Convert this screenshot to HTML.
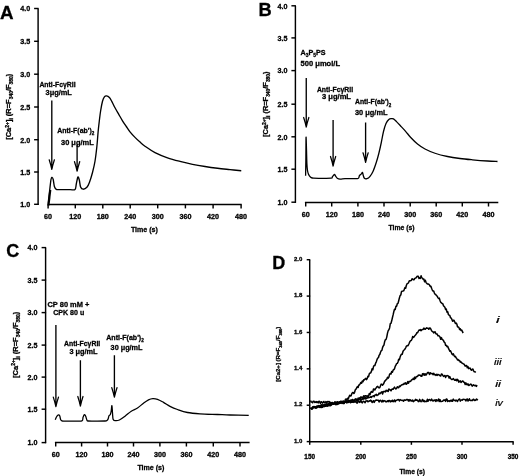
<!DOCTYPE html>
<html><head><meta charset="utf-8"><style>
html,body{margin:0;padding:0;background:#fff;}
body{width:520px;height:476px;overflow:hidden;}
svg{display:block;filter:grayscale(1);}
text{font-family:"Liberation Sans", sans-serif;fill:#000;stroke:#000;stroke-width:0.3px;}
</style></head><body>
<svg width="520" height="476" viewBox="0 0 520 476">
<rect width="520" height="476" fill="#fff"/>
<g stroke="#000" fill="#000" stroke-linecap="butt">
<text x="0.00" y="19.20" font-size="18.8" font-weight="bold" text-anchor="start" >A</text>
<line x1="38.10" y1="8.50" x2="38.10" y2="204.90" stroke-width="1.45"/>
<line x1="34.10" y1="8.50" x2="38.60" y2="8.50" stroke-width="1.45"/>
<text x="30.30" y="11.30" font-size="7.9" font-weight="bold" text-anchor="end" textLength="10.00" lengthAdjust="spacingAndGlyphs" >4.0</text>
<line x1="34.10" y1="41.30" x2="38.60" y2="41.30" stroke-width="1.45"/>
<text x="30.30" y="44.10" font-size="7.9" font-weight="bold" text-anchor="end" textLength="10.00" lengthAdjust="spacingAndGlyphs" >3.5</text>
<line x1="34.10" y1="74.20" x2="38.60" y2="74.20" stroke-width="1.45"/>
<text x="30.30" y="77.00" font-size="7.9" font-weight="bold" text-anchor="end" textLength="10.00" lengthAdjust="spacingAndGlyphs" >3.0</text>
<line x1="34.10" y1="107.00" x2="38.60" y2="107.00" stroke-width="1.45"/>
<text x="30.30" y="109.80" font-size="7.9" font-weight="bold" text-anchor="end" textLength="10.00" lengthAdjust="spacingAndGlyphs" >2.5</text>
<line x1="34.10" y1="139.70" x2="38.60" y2="139.70" stroke-width="1.45"/>
<text x="30.30" y="142.50" font-size="7.9" font-weight="bold" text-anchor="end" textLength="10.00" lengthAdjust="spacingAndGlyphs" >2.0</text>
<line x1="34.10" y1="172.00" x2="38.60" y2="172.00" stroke-width="1.45"/>
<text x="30.30" y="174.80" font-size="7.9" font-weight="bold" text-anchor="end" textLength="10.00" lengthAdjust="spacingAndGlyphs" >1.5</text>
<line x1="34.10" y1="204.30" x2="38.60" y2="204.30" stroke-width="1.45"/>
<text x="30.30" y="207.10" font-size="7.9" font-weight="bold" text-anchor="end" textLength="10.00" lengthAdjust="spacingAndGlyphs" >1.0</text>
<line x1="47.50" y1="204.40" x2="241.70" y2="204.40" stroke-width="1.45"/>
<line x1="48.10" y1="204.40" x2="48.10" y2="208.40" stroke-width="1.45"/>
<text x="48.10" y="218.60" font-size="7.2" font-weight="bold" text-anchor="middle" >60</text>
<line x1="75.30" y1="204.40" x2="75.30" y2="208.40" stroke-width="1.45"/>
<text x="75.30" y="218.60" font-size="7.2" font-weight="bold" text-anchor="middle" >120</text>
<line x1="102.80" y1="204.40" x2="102.80" y2="208.40" stroke-width="1.45"/>
<text x="102.80" y="218.60" font-size="7.2" font-weight="bold" text-anchor="middle" >180</text>
<line x1="130.20" y1="204.40" x2="130.20" y2="208.40" stroke-width="1.45"/>
<text x="130.20" y="218.60" font-size="7.2" font-weight="bold" text-anchor="middle" >240</text>
<line x1="157.70" y1="204.40" x2="157.70" y2="208.40" stroke-width="1.45"/>
<text x="157.70" y="218.60" font-size="7.2" font-weight="bold" text-anchor="middle" >300</text>
<line x1="185.40" y1="204.40" x2="185.40" y2="208.40" stroke-width="1.45"/>
<text x="185.40" y="218.60" font-size="7.2" font-weight="bold" text-anchor="middle" >360</text>
<line x1="213.10" y1="204.40" x2="213.10" y2="208.40" stroke-width="1.45"/>
<text x="213.10" y="218.60" font-size="7.2" font-weight="bold" text-anchor="middle" >420</text>
<line x1="241.10" y1="204.40" x2="241.10" y2="208.40" stroke-width="1.45"/>
<text x="241.10" y="218.60" font-size="7.2" font-weight="bold" text-anchor="middle" >480</text>
<text x="144.40" y="231.60" font-size="7.5" font-weight="bold" text-anchor="middle" textLength="27.00" lengthAdjust="spacingAndGlyphs" >Time (s)</text>
<text transform="translate(11.40,106.75) rotate(-90)" x="0" y="0" font-size="7.3" font-weight="bold" text-anchor="middle" textLength="66.10" lengthAdjust="spacingAndGlyphs">[Ca<tspan font-size="4.82" dy="-2.77">2+</tspan><tspan dy="2.77">]</tspan><tspan font-size="4.82" dy="1.82">i</tspan><tspan dy="-1.82"> (R=F</tspan><tspan font-size="4.82" dy="1.82">340</tspan><tspan dy="-1.82">/F</tspan><tspan font-size="4.82" dy="1.82">380</tspan><tspan dy="-1.82">)</tspan></text>
<path d="M48.10,203.80 C48.35,201.67 49.12,195.05 49.60,191.00 C50.08,186.95 50.58,181.78 51.00,179.50 C51.42,177.22 51.73,177.30 52.10,177.30 C52.47,177.30 52.82,177.97 53.20,179.50 C53.58,181.03 53.89,184.87 54.40,186.50 C54.91,188.13 55.32,188.78 56.25,189.30 C57.18,189.82 57.71,189.55 60.00,189.60 C62.29,189.65 67.50,189.62 70.00,189.60 C72.50,189.58 73.95,190.43 75.00,189.50 C76.05,188.57 75.82,186.08 76.30,184.00 C76.78,181.92 77.40,177.67 77.90,177.00 C78.40,176.33 78.85,178.33 79.30,180.00 C79.75,181.67 79.97,185.47 80.60,187.00 C81.23,188.53 82.05,189.15 83.10,189.20 C84.15,189.25 85.85,188.42 86.90,187.30 C87.95,186.18 88.47,184.97 89.40,182.50 C90.33,180.03 91.57,176.04 92.50,172.50 C93.43,168.96 94.27,165.62 95.00,161.25 C95.73,156.88 96.38,151.12 96.90,146.25 C97.42,141.38 97.70,136.21 98.10,132.00 C98.50,127.79 98.88,124.50 99.30,121.00 C99.72,117.50 100.07,114.29 100.60,111.00 C101.13,107.71 101.87,103.60 102.50,101.25 C103.13,98.90 103.73,97.79 104.40,96.90 C105.07,96.01 105.67,95.80 106.50,95.90 C107.33,96.00 108.50,96.55 109.40,97.50 C110.30,98.45 110.97,99.88 111.90,101.60 C112.83,103.32 113.86,105.67 115.00,107.80 C116.14,109.93 117.50,112.23 118.75,114.40 C120.00,116.57 121.25,118.78 122.50,120.80 C123.75,122.82 125.00,124.65 126.25,126.50 C127.50,128.35 128.54,130.08 130.00,131.90 C131.46,133.72 133.33,135.70 135.00,137.40 C136.67,139.10 138.33,140.63 140.00,142.10 C141.67,143.57 142.50,144.45 145.00,146.20 C147.50,147.95 151.25,150.67 155.00,152.60 C158.75,154.53 163.33,156.33 167.50,157.80 C171.67,159.27 175.83,160.32 180.00,161.40 C184.17,162.48 188.33,163.45 192.50,164.30 C196.67,165.15 200.83,165.84 205.00,166.50 C209.17,167.16 213.33,167.73 217.50,168.25 C221.67,168.77 226.04,169.18 230.00,169.60 C233.96,170.02 239.38,170.56 241.25,170.75" fill="none" stroke-width="1.35"/>
<line x1="48.50" y1="205.50" x2="50.30" y2="190.00" stroke-width="2.1"/>
<line x1="51.80" y1="100.60" x2="51.80" y2="167.30" stroke-width="1.35"/>
<path d="M49.20,159.80 Q50.90,165.03 51.80,169.30 Q52.70,165.03 54.40,159.80" fill="none" stroke-width="1.25" stroke-linejoin="round" stroke-linecap="round"/>
<path d="M50.70,164.08 L51.80,169.30 L52.90,164.08 Z" stroke="none"/>
<line x1="77.10" y1="144.40" x2="77.10" y2="169.20" stroke-width="1.35"/>
<path d="M74.50,161.70 Q76.20,166.92 77.10,171.20 Q78.00,166.92 79.70,161.70" fill="none" stroke-width="1.25" stroke-linejoin="round" stroke-linecap="round"/>
<path d="M76.00,165.97 L77.10,171.20 L78.20,165.97 Z" stroke="none"/>
<text x="39.40" y="86.60" font-size="7.6" font-weight="bold" text-anchor="start" textLength="36.20" lengthAdjust="spacingAndGlyphs" >Anti-Fc&#947;RII</text>
<text x="45.60" y="95.00" font-size="7.6" font-weight="bold" text-anchor="start" textLength="26.30" lengthAdjust="spacingAndGlyphs" >3&#956;g/mL</text>
<text x="57.25" y="133.1" font-size="7.6" font-weight="bold" textLength="37.1" lengthAdjust="spacingAndGlyphs">Anti-F(ab')<tspan font-size="5.0" dy="2.3">2</tspan></text>
<text x="61.00" y="145.00" font-size="7.6" font-weight="bold" text-anchor="start" textLength="32.70" lengthAdjust="spacingAndGlyphs" >30 &#956;g/mL</text>
<text x="258.60" y="15.50" font-size="18.3" font-weight="bold" text-anchor="start" >B</text>
<line x1="295.40" y1="5.80" x2="295.40" y2="202.90" stroke-width="1.45"/>
<line x1="291.40" y1="5.80" x2="295.90" y2="5.80" stroke-width="1.45"/>
<text x="287.60" y="8.60" font-size="7.9" font-weight="bold" text-anchor="end" textLength="10.00" lengthAdjust="spacingAndGlyphs" >4.0</text>
<line x1="291.40" y1="37.90" x2="295.90" y2="37.90" stroke-width="1.45"/>
<text x="287.60" y="40.70" font-size="7.9" font-weight="bold" text-anchor="end" textLength="10.00" lengthAdjust="spacingAndGlyphs" >3.5</text>
<line x1="291.40" y1="70.60" x2="295.90" y2="70.60" stroke-width="1.45"/>
<text x="287.60" y="73.40" font-size="7.9" font-weight="bold" text-anchor="end" textLength="10.00" lengthAdjust="spacingAndGlyphs" >3.0</text>
<line x1="291.40" y1="104.20" x2="295.90" y2="104.20" stroke-width="1.45"/>
<text x="287.60" y="107.00" font-size="7.9" font-weight="bold" text-anchor="end" textLength="10.00" lengthAdjust="spacingAndGlyphs" >2.5</text>
<line x1="291.40" y1="136.80" x2="295.90" y2="136.80" stroke-width="1.45"/>
<text x="287.60" y="139.60" font-size="7.9" font-weight="bold" text-anchor="end" textLength="10.00" lengthAdjust="spacingAndGlyphs" >2.0</text>
<line x1="291.40" y1="169.20" x2="295.90" y2="169.20" stroke-width="1.45"/>
<text x="287.60" y="172.00" font-size="7.9" font-weight="bold" text-anchor="end" textLength="10.00" lengthAdjust="spacingAndGlyphs" >1.5</text>
<line x1="291.40" y1="202.20" x2="295.90" y2="202.20" stroke-width="1.45"/>
<text x="287.60" y="205.00" font-size="7.9" font-weight="bold" text-anchor="end" textLength="10.00" lengthAdjust="spacingAndGlyphs" >1.0</text>
<line x1="304.90" y1="202.50" x2="498.30" y2="202.50" stroke-width="1.45"/>
<line x1="305.70" y1="202.50" x2="305.70" y2="206.50" stroke-width="1.45"/>
<text x="305.70" y="216.60" font-size="7.2" font-weight="bold" text-anchor="middle" >60</text>
<line x1="331.70" y1="202.50" x2="331.70" y2="206.50" stroke-width="1.45"/>
<text x="331.70" y="216.60" font-size="7.2" font-weight="bold" text-anchor="middle" >120</text>
<line x1="357.90" y1="202.50" x2="357.90" y2="206.50" stroke-width="1.45"/>
<text x="357.90" y="216.60" font-size="7.2" font-weight="bold" text-anchor="middle" >180</text>
<line x1="384.00" y1="202.50" x2="384.00" y2="206.50" stroke-width="1.45"/>
<text x="384.00" y="216.60" font-size="7.2" font-weight="bold" text-anchor="middle" >240</text>
<line x1="410.20" y1="202.50" x2="410.20" y2="206.50" stroke-width="1.45"/>
<text x="410.20" y="216.60" font-size="7.2" font-weight="bold" text-anchor="middle" >300</text>
<line x1="436.20" y1="202.50" x2="436.20" y2="206.50" stroke-width="1.45"/>
<text x="436.20" y="216.60" font-size="7.2" font-weight="bold" text-anchor="middle" >360</text>
<line x1="462.30" y1="202.50" x2="462.30" y2="206.50" stroke-width="1.45"/>
<text x="462.30" y="216.60" font-size="7.2" font-weight="bold" text-anchor="middle" >420</text>
<line x1="488.50" y1="202.50" x2="488.50" y2="206.50" stroke-width="1.45"/>
<text x="488.50" y="216.60" font-size="7.2" font-weight="bold" text-anchor="middle" >480</text>
<text x="401.50" y="229.50" font-size="7.5" font-weight="bold" text-anchor="middle" textLength="26.00" lengthAdjust="spacingAndGlyphs" >Time (s)</text>
<text transform="translate(268.45,104.20) rotate(-90)" x="0" y="0" font-size="7.3" font-weight="bold" text-anchor="middle" textLength="65.40" lengthAdjust="spacingAndGlyphs">[Ca<tspan font-size="4.82" dy="-2.77">2+</tspan><tspan dy="2.77">]</tspan><tspan font-size="4.82" dy="1.82">i</tspan><tspan dy="-1.82"> (R=F</tspan><tspan font-size="4.82" dy="1.82">340</tspan><tspan dy="-1.82">/F</tspan><tspan font-size="4.82" dy="1.82">380</tspan><tspan dy="-1.82">)</tspan></text>
<path d="M305.60,175.80 C305.64,173.17 305.78,166.42 305.85,160.00 C305.93,153.58 305.94,138.97 306.05,137.30 C306.16,135.63 306.36,145.55 306.50,150.00 C306.64,154.45 306.73,160.58 306.90,164.00 C307.07,167.42 307.25,168.83 307.50,170.50 C307.75,172.17 308.08,173.12 308.40,174.00 C308.72,174.88 308.92,175.20 309.40,175.80 C309.88,176.40 310.57,177.20 311.25,177.60 C311.93,178.00 312.04,178.08 313.50,178.20 C314.96,178.32 317.08,178.30 320.00,178.30 C322.92,178.30 328.92,178.50 331.00,178.20 C333.08,177.90 331.93,177.12 332.50,176.50 C333.07,175.88 333.85,174.52 334.40,174.50 C334.95,174.48 335.33,175.78 335.80,176.40 C336.27,177.02 336.50,177.75 337.20,178.20 C337.90,178.65 338.70,179.02 340.00,179.10 C341.30,179.18 343.00,178.78 345.00,178.70 C347.00,178.62 349.82,178.63 352.00,178.60 C354.18,178.57 356.87,179.00 358.10,178.50 C359.33,178.00 358.98,176.25 359.40,175.60 C359.82,174.95 360.23,174.93 360.60,174.60 C360.97,174.27 361.28,173.97 361.60,173.60 C361.92,173.23 362.23,172.13 362.50,172.40 C362.77,172.67 362.88,174.22 363.20,175.20 C363.52,176.18 363.78,177.72 364.40,178.30 C365.02,178.88 365.97,179.03 366.90,178.70 C367.83,178.37 368.97,177.55 370.00,176.30 C371.03,175.05 372.06,173.50 373.10,171.20 C374.14,168.90 375.31,165.41 376.25,162.50 C377.19,159.59 377.91,157.08 378.75,153.75 C379.59,150.42 380.51,146.21 381.30,142.50 C382.09,138.79 382.72,134.67 383.50,131.50 C384.28,128.33 385.12,125.52 386.00,123.50 C386.88,121.48 387.88,120.22 388.80,119.40 C389.72,118.58 390.72,118.68 391.50,118.60 C392.28,118.52 392.67,118.40 393.50,118.90 C394.33,119.40 395.22,120.32 396.50,121.60 C397.78,122.88 399.65,124.93 401.20,126.60 C402.75,128.27 404.25,129.83 405.80,131.60 C407.35,133.37 408.55,135.13 410.50,137.20 C412.45,139.27 415.08,142.03 417.50,144.00 C419.92,145.97 422.08,147.46 425.00,149.00 C427.92,150.54 431.25,152.00 435.00,153.25 C438.75,154.50 443.33,155.62 447.50,156.50 C451.67,157.38 455.83,157.95 460.00,158.50 C464.17,159.05 467.92,159.38 472.50,159.80 C477.08,160.22 483.33,160.72 487.50,161.00 C491.67,161.28 495.83,161.42 497.50,161.50" fill="none" stroke-width="1.3"/>
<line x1="306.25" y1="78.10" x2="306.25" y2="125.00" stroke-width="1.35"/>
<path d="M303.65,117.50 Q305.35,122.72 306.25,127.00 Q307.15,122.72 308.85,117.50" fill="none" stroke-width="1.25" stroke-linejoin="round" stroke-linecap="round"/>
<path d="M305.15,121.78 L306.25,127.00 L307.35,121.78 Z" stroke="none"/>
<line x1="333.10" y1="120.00" x2="333.10" y2="164.00" stroke-width="1.35"/>
<path d="M330.50,156.50 Q332.20,161.72 333.10,166.00 Q334.00,161.72 335.70,156.50" fill="none" stroke-width="1.25" stroke-linejoin="round" stroke-linecap="round"/>
<path d="M332.00,160.78 L333.10,166.00 L334.20,160.78 Z" stroke="none"/>
<line x1="365.60" y1="122.50" x2="365.60" y2="160.30" stroke-width="1.35"/>
<path d="M363.00,152.80 Q364.70,158.03 365.60,162.30 Q366.50,158.03 368.20,152.80" fill="none" stroke-width="1.25" stroke-linejoin="round" stroke-linecap="round"/>
<path d="M364.50,157.08 L365.60,162.30 L366.70,157.08 Z" stroke="none"/>
<text x="300.6" y="54.8" font-size="7.6" font-weight="bold" textLength="25.0" lengthAdjust="spacingAndGlyphs">A<tspan font-size="5.2" dy="2.0">3</tspan><tspan dy="-2.0">P</tspan><tspan font-size="5.2" dy="2.0">5</tspan><tspan dy="-2.0">PS</tspan></text>
<text x="300.60" y="66.25" font-size="7.6" font-weight="bold" text-anchor="start" textLength="39.40" lengthAdjust="spacingAndGlyphs" >500 &#956;mol/L</text>
<text x="316.90" y="91.90" font-size="7.6" font-weight="bold" text-anchor="start" textLength="36.20" lengthAdjust="spacingAndGlyphs" >Anti-Fc&#947;RII</text>
<text x="322.00" y="98.90" font-size="7.6" font-weight="bold" text-anchor="start" textLength="29.00" lengthAdjust="spacingAndGlyphs" >3 &#956;g/mL</text>
<text x="355.0" y="104.4" font-size="7.6" font-weight="bold" textLength="36.3" lengthAdjust="spacingAndGlyphs">Anti-F(ab')<tspan font-size="5.0" dy="2.3">2</tspan></text>
<text x="355.00" y="115.00" font-size="7.6" font-weight="bold" text-anchor="start" textLength="32.50" lengthAdjust="spacingAndGlyphs" >30 &#956;g/mL</text>
<text x="6.20" y="256.80" font-size="18.0" font-weight="bold" text-anchor="start" >C</text>
<line x1="45.60" y1="247.60" x2="45.60" y2="443.20" stroke-width="1.45"/>
<line x1="41.60" y1="247.60" x2="46.10" y2="247.60" stroke-width="1.45"/>
<text x="37.50" y="250.40" font-size="7.9" font-weight="bold" text-anchor="end" textLength="10.00" lengthAdjust="spacingAndGlyphs" >4.0</text>
<line x1="41.60" y1="280.10" x2="46.10" y2="280.10" stroke-width="1.45"/>
<text x="37.50" y="282.90" font-size="7.9" font-weight="bold" text-anchor="end" textLength="10.00" lengthAdjust="spacingAndGlyphs" >3.5</text>
<line x1="41.60" y1="312.60" x2="46.10" y2="312.60" stroke-width="1.45"/>
<text x="37.50" y="315.40" font-size="7.9" font-weight="bold" text-anchor="end" textLength="10.00" lengthAdjust="spacingAndGlyphs" >3.0</text>
<line x1="41.60" y1="345.10" x2="46.10" y2="345.10" stroke-width="1.45"/>
<text x="37.50" y="347.90" font-size="7.9" font-weight="bold" text-anchor="end" textLength="10.00" lengthAdjust="spacingAndGlyphs" >2.5</text>
<line x1="41.60" y1="377.10" x2="46.10" y2="377.10" stroke-width="1.45"/>
<text x="37.50" y="379.90" font-size="7.9" font-weight="bold" text-anchor="end" textLength="10.00" lengthAdjust="spacingAndGlyphs" >2.0</text>
<line x1="41.60" y1="409.20" x2="46.10" y2="409.20" stroke-width="1.45"/>
<text x="37.50" y="412.00" font-size="7.9" font-weight="bold" text-anchor="end" textLength="10.00" lengthAdjust="spacingAndGlyphs" >1.5</text>
<line x1="41.60" y1="442.60" x2="46.10" y2="442.60" stroke-width="1.45"/>
<text x="37.50" y="445.40" font-size="7.9" font-weight="bold" text-anchor="end" textLength="10.00" lengthAdjust="spacingAndGlyphs" >1.0</text>
<line x1="54.90" y1="442.50" x2="249.60" y2="442.50" stroke-width="1.45"/>
<line x1="55.70" y1="442.50" x2="55.70" y2="446.50" stroke-width="1.45"/>
<text x="55.70" y="456.60" font-size="7.2" font-weight="bold" text-anchor="middle" >60</text>
<line x1="81.60" y1="442.50" x2="81.60" y2="446.50" stroke-width="1.45"/>
<text x="81.60" y="456.60" font-size="7.2" font-weight="bold" text-anchor="middle" >120</text>
<line x1="107.50" y1="442.50" x2="107.50" y2="446.50" stroke-width="1.45"/>
<text x="107.50" y="456.60" font-size="7.2" font-weight="bold" text-anchor="middle" >180</text>
<line x1="133.50" y1="442.50" x2="133.50" y2="446.50" stroke-width="1.45"/>
<text x="133.50" y="456.60" font-size="7.2" font-weight="bold" text-anchor="middle" >240</text>
<line x1="159.90" y1="442.50" x2="159.90" y2="446.50" stroke-width="1.45"/>
<text x="159.90" y="456.60" font-size="7.2" font-weight="bold" text-anchor="middle" >300</text>
<line x1="186.40" y1="442.50" x2="186.40" y2="446.50" stroke-width="1.45"/>
<text x="186.40" y="456.60" font-size="7.2" font-weight="bold" text-anchor="middle" >360</text>
<line x1="213.30" y1="442.50" x2="213.30" y2="446.50" stroke-width="1.45"/>
<text x="213.30" y="456.60" font-size="7.2" font-weight="bold" text-anchor="middle" >420</text>
<line x1="240.00" y1="442.50" x2="240.00" y2="446.50" stroke-width="1.45"/>
<text x="240.00" y="456.60" font-size="7.2" font-weight="bold" text-anchor="middle" >480</text>
<text x="150.90" y="470.40" font-size="7.5" font-weight="bold" text-anchor="middle" textLength="27.00" lengthAdjust="spacingAndGlyphs" >Time (s)</text>
<text transform="translate(17.90,344.80) rotate(-90)" x="0" y="0" font-size="7.3" font-weight="bold" text-anchor="middle" textLength="66.20" lengthAdjust="spacingAndGlyphs">[Ca<tspan font-size="4.82" dy="-2.77">2+</tspan><tspan dy="2.77">]</tspan><tspan font-size="4.82" dy="1.82">i</tspan><tspan dy="-1.82"> (R=F</tspan><tspan font-size="4.82" dy="1.82">340</tspan><tspan dy="-1.82">/F</tspan><tspan font-size="4.82" dy="1.82">380</tspan><tspan dy="-1.82">)</tspan></text>
<path d="M55.25,419.80 C55.48,419.30 56.18,417.57 56.60,416.80 C57.02,416.03 57.44,415.52 57.80,415.20 C58.16,414.88 58.42,414.77 58.75,414.90 C59.08,415.03 59.49,415.23 59.80,416.00 C60.11,416.77 60.25,418.68 60.60,419.50 C60.95,420.32 61.17,420.63 61.90,420.90 C62.63,421.17 62.82,421.07 65.00,421.10 C67.18,421.13 72.18,421.13 75.00,421.10 C77.82,421.07 80.57,421.50 81.90,420.90 C83.23,420.30 82.65,418.48 83.00,417.50 C83.35,416.52 83.71,415.45 84.00,415.00 C84.29,414.55 84.45,414.55 84.75,414.80 C85.05,415.05 85.44,415.63 85.80,416.50 C86.16,417.37 86.50,419.25 86.90,420.00 C87.30,420.75 86.85,420.82 88.20,421.00 C89.55,421.18 92.20,421.10 95.00,421.10 C97.80,421.10 102.97,421.13 105.00,421.00 C107.03,420.87 106.68,420.63 107.20,420.30 C107.72,419.97 107.80,419.75 108.10,419.00 C108.40,418.25 108.63,416.53 109.00,415.80 C109.37,415.07 109.93,415.40 110.30,414.60 C110.67,413.80 110.93,412.50 111.20,411.00 C111.47,409.50 111.68,405.27 111.90,405.60 C112.12,405.93 112.30,410.73 112.50,413.00 C112.70,415.27 112.68,417.93 113.10,419.20 C113.52,420.47 113.95,420.47 115.00,420.60 C116.05,420.73 117.73,420.73 119.40,420.00 C121.07,419.27 123.03,417.72 125.00,416.25 C126.97,414.78 129.17,412.57 131.25,411.20 C133.33,409.82 135.46,409.33 137.50,408.00 C139.54,406.67 141.67,404.57 143.50,403.20 C145.33,401.83 146.95,400.57 148.50,399.80 C150.05,399.03 151.30,398.68 152.80,398.60 C154.30,398.52 155.72,398.67 157.50,399.30 C159.28,399.93 161.42,401.23 163.50,402.40 C165.58,403.57 167.67,405.12 170.00,406.30 C172.33,407.48 174.58,408.47 177.50,409.50 C180.42,410.53 183.75,411.78 187.50,412.50 C191.25,413.22 195.00,413.47 200.00,413.80 C205.00,414.13 212.50,414.30 217.50,414.50 C222.50,414.70 224.79,414.87 230.00,415.00 C235.21,415.13 245.62,415.25 248.75,415.30" fill="none" stroke-width="1.3"/>
<line x1="55.90" y1="325.00" x2="55.90" y2="404.60" stroke-width="1.35"/>
<path d="M53.30,397.10 Q55.00,402.33 55.90,406.60 Q56.80,402.33 58.50,397.10" fill="none" stroke-width="1.25" stroke-linejoin="round" stroke-linecap="round"/>
<path d="M54.80,401.38 L55.90,406.60 L57.00,401.38 Z" stroke="none"/>
<line x1="80.40" y1="360.25" x2="80.40" y2="404.00" stroke-width="1.35"/>
<path d="M77.80,396.50 Q79.50,401.73 80.40,406.00 Q81.30,401.73 83.00,396.50" fill="none" stroke-width="1.25" stroke-linejoin="round" stroke-linecap="round"/>
<path d="M79.30,400.77 L80.40,406.00 L81.50,400.77 Z" stroke="none"/>
<line x1="114.40" y1="355.25" x2="114.40" y2="395.20" stroke-width="1.35"/>
<path d="M111.80,387.70 Q113.50,392.93 114.40,397.20 Q115.30,392.93 117.00,387.70" fill="none" stroke-width="1.25" stroke-linejoin="round" stroke-linecap="round"/>
<path d="M113.30,391.97 L114.40,397.20 L115.50,391.97 Z" stroke="none"/>
<text x="47.50" y="306.90" font-size="7.8" font-weight="bold" text-anchor="start" textLength="41.80" lengthAdjust="spacingAndGlyphs" >CP 80 mM +</text>
<text x="53.25" y="315.30" font-size="7.8" font-weight="bold" text-anchor="start" textLength="31.00" lengthAdjust="spacingAndGlyphs" >CPK 80 u</text>
<text x="64.00" y="346.25" font-size="7.6" font-weight="bold" text-anchor="start" textLength="36.20" lengthAdjust="spacingAndGlyphs" >Anti-Fc&#947;RII</text>
<text x="69.40" y="354.00" font-size="7.6" font-weight="bold" text-anchor="start" textLength="28.10" lengthAdjust="spacingAndGlyphs" >3 &#956;g/mL</text>
<text x="106.25" y="339.75" font-size="7.6" font-weight="bold" textLength="37.5" lengthAdjust="spacingAndGlyphs">Anti-F(ab')<tspan font-size="5.0" dy="2.3">2</tspan></text>
<text x="110.60" y="350.00" font-size="7.6" font-weight="bold" text-anchor="start" textLength="31.90" lengthAdjust="spacingAndGlyphs" >30 &#956;g/mL</text>
<text x="272.20" y="269.30" font-size="18.0" font-weight="bold" text-anchor="start" >D</text>
<line x1="309.70" y1="259.70" x2="309.70" y2="442.20" stroke-width="1.45"/>
<line x1="306.70" y1="259.70" x2="310.20" y2="259.70" stroke-width="1.45"/>
<text x="302.30" y="260.80" font-size="6.0" font-weight="bold" text-anchor="end" >2.0</text>
<line x1="306.70" y1="296.08" x2="310.20" y2="296.08" stroke-width="1.45"/>
<text x="302.30" y="297.18" font-size="6.0" font-weight="bold" text-anchor="end" >1.8</text>
<line x1="306.70" y1="332.46" x2="310.20" y2="332.46" stroke-width="1.45"/>
<text x="302.30" y="333.56" font-size="6.0" font-weight="bold" text-anchor="end" >1.6</text>
<line x1="306.70" y1="368.84" x2="310.20" y2="368.84" stroke-width="1.45"/>
<text x="302.30" y="369.94" font-size="6.0" font-weight="bold" text-anchor="end" >1.4</text>
<line x1="306.70" y1="405.22" x2="310.20" y2="405.22" stroke-width="1.45"/>
<text x="302.30" y="406.32" font-size="6.0" font-weight="bold" text-anchor="end" >1.2</text>
<line x1="306.70" y1="441.60" x2="310.20" y2="441.60" stroke-width="1.45"/>
<text x="302.30" y="442.70" font-size="6.0" font-weight="bold" text-anchor="end" >1.0</text>
<line x1="309.10" y1="441.80" x2="513.70" y2="441.80" stroke-width="1.45"/>
<line x1="309.70" y1="441.80" x2="309.70" y2="444.80" stroke-width="1.45"/>
<text x="309.70" y="459.30" font-size="6.4" font-weight="bold" text-anchor="middle" >150</text>
<line x1="360.80" y1="441.80" x2="360.80" y2="444.80" stroke-width="1.45"/>
<text x="360.80" y="459.30" font-size="6.4" font-weight="bold" text-anchor="middle" >200</text>
<line x1="411.40" y1="441.80" x2="411.40" y2="444.80" stroke-width="1.45"/>
<text x="411.40" y="459.30" font-size="6.4" font-weight="bold" text-anchor="middle" >250</text>
<line x1="462.00" y1="441.80" x2="462.00" y2="444.80" stroke-width="1.45"/>
<text x="462.00" y="459.30" font-size="6.4" font-weight="bold" text-anchor="middle" >300</text>
<line x1="513.10" y1="441.80" x2="513.10" y2="444.80" stroke-width="1.45"/>
<text x="513.10" y="459.30" font-size="6.4" font-weight="bold" text-anchor="middle" >350</text>
<text x="412.20" y="474.40" font-size="7.2" font-weight="bold" text-anchor="middle" textLength="25.60" lengthAdjust="spacingAndGlyphs" >Time (s)</text>
<text transform="translate(280.4,354.2) rotate(-90)" x="0" y="0" font-size="5.6" font-weight="bold" text-anchor="middle" textLength="55.1" lengthAdjust="spacingAndGlyphs">[Ca2+] (R=F<tspan font-size="3.8" dy="1.3">340</tspan><tspan dy="-1.3">/F</tspan><tspan font-size="3.8" dy="1.3">380</tspan><tspan dy="-1.3">)</tspan></text>
<path d="M310.50,408.18 L311.20,408.32 L311.90,409.14 L312.60,407.81 L313.30,407.79 L314.00,407.86 L314.70,406.68 L315.40,407.40 L316.10,407.58 L316.80,407.87 L317.50,405.92 L318.20,406.33 L318.90,405.64 L319.60,407.38 L320.30,406.94 L321.00,405.11 L321.70,407.41 L322.40,407.23 L323.10,406.28 L323.80,406.04 L324.50,404.71 L325.20,404.20 L325.90,405.39 L326.60,404.03 L327.30,404.23 L328.00,404.23 L328.70,403.54 L329.40,404.53 L330.10,404.33 L330.80,405.23 L331.50,404.25 L332.20,404.42 L332.90,403.92 L333.60,404.20 L334.30,403.53 L335.00,402.92 L335.70,404.65 L336.40,404.51 L337.10,403.96 L337.80,403.48 L338.50,402.32 L339.20,401.96 L339.90,401.97 L340.60,401.17 L341.30,402.73 L342.00,401.54 L342.70,402.45 L343.40,401.01 L344.10,402.25 L344.80,401.71 L345.50,399.20 L346.20,399.05 L346.90,400.17 L347.60,398.32 L348.30,398.95 L349.00,396.73 L349.70,395.19 L350.40,395.96 L351.10,395.68 L351.80,393.69 L352.50,392.55 L353.20,392.52 L353.90,393.50 L354.60,392.30 L355.30,389.82 L356.00,389.14 L356.70,387.75 L357.40,386.63 L358.10,387.53 L358.80,384.90 L359.50,384.88 L360.20,383.69 L360.90,382.42 L361.60,383.22 L362.30,381.05 L363.00,381.77 L363.70,379.80 L364.40,379.98 L365.10,378.83 L365.80,378.37 L366.50,379.59 L367.20,378.55 L367.90,376.32 L368.60,376.67 L369.30,373.75 L370.00,373.06 L370.70,373.09 L371.40,371.36 L372.10,368.72 L372.80,369.81 L373.50,366.57 L374.20,365.46 L374.90,365.57 L375.60,363.19 L376.30,361.85 L377.00,359.64 L377.70,358.05 L378.40,357.70 L379.10,355.18 L379.80,354.48 L380.50,352.21 L381.20,350.73 L381.90,350.35 L382.60,347.42 L383.30,345.94 L384.00,344.95 L384.70,341.43 L385.40,339.60 L386.10,339.41 L386.80,336.87 L387.50,333.09 L388.20,330.63 L388.90,329.75 L389.60,327.96 L390.30,323.71 L391.00,323.32 L391.70,320.80 L392.40,317.73 L393.10,314.91 L393.80,311.74 L394.50,309.23 L395.20,309.57 L395.90,306.36 L396.60,306.24 L397.30,303.75 L398.00,303.39 L398.70,300.76 L399.40,297.94 L400.10,295.60 L400.80,294.98 L401.50,291.65 L402.20,291.13 L402.90,291.05 L403.60,290.88 L404.30,289.33 L405.00,287.53 L405.70,288.14 L406.40,285.24 L407.10,283.71 L407.80,283.32 L408.50,282.73 L409.20,280.99 L409.90,280.71 L410.60,280.63 L411.30,280.58 L412.00,278.86 L412.70,278.92 L413.40,279.86 L414.10,279.67 L414.80,278.40 L415.50,278.06 L416.20,277.72 L416.90,276.56 L417.60,276.29 L418.30,276.25 L419.00,278.52 L419.70,277.83 L420.40,278.37 L421.10,275.79 L421.80,277.88 L422.50,278.15 L423.20,279.47 L423.90,279.12 L424.60,281.75 L425.30,280.22 L426.00,282.31 L426.70,283.33 L427.40,284.09 L428.10,284.00 L428.80,284.24 L429.50,284.94 L430.20,286.47 L430.90,286.23 L431.60,288.31 L432.30,290.09 L433.00,291.11 L433.70,290.98 L434.40,293.01 L435.10,294.25 L435.80,294.54 L436.50,295.72 L437.20,296.14 L437.90,297.62 L438.60,298.58 L439.30,298.10 L440.00,300.44 L440.70,302.26 L441.40,302.85 L442.10,303.42 L442.80,303.66 L443.50,305.69 L444.20,306.42 L444.90,307.18 L445.60,309.59 L446.30,309.04 L447.00,312.18 L447.70,311.72 L448.40,314.44 L449.10,315.12 L449.80,315.46 L450.50,317.67 L451.20,318.15 L451.90,319.45 L452.60,321.20 L453.30,320.22 L454.00,320.33 L454.70,321.83 L455.40,323.56 L456.10,323.07 L456.80,323.87 L457.50,326.72 L458.20,327.02 L458.90,327.38 L459.60,329.49 L460.30,328.87 L461.00,330.50 L461.70,330.03 L462.40,331.38 L463.10,333.10" fill="none" stroke-width="1.5" stroke-linejoin="round"/>
<path d="M310.50,408.23 L311.20,408.58 L311.90,408.47 L312.60,406.97 L313.30,406.50 L314.00,407.31 L314.70,406.92 L315.40,408.18 L316.10,407.73 L316.80,407.37 L317.50,407.12 L318.20,407.26 L318.90,405.79 L319.60,406.42 L320.30,405.56 L321.00,407.36 L321.70,405.01 L322.40,406.85 L323.10,404.77 L323.80,406.23 L324.50,405.18 L325.20,405.21 L325.90,406.21 L326.60,403.93 L327.30,403.90 L328.00,405.98 L328.70,404.78 L329.40,403.56 L330.10,405.75 L330.80,405.53 L331.50,403.24 L332.20,403.93 L332.90,403.06 L333.60,403.40 L334.30,404.08 L335.00,402.78 L335.70,404.04 L336.40,402.25 L337.10,402.44 L337.80,403.99 L338.50,402.80 L339.20,402.72 L339.90,403.07 L340.60,402.65 L341.30,402.30 L342.00,401.27 L342.70,402.97 L343.40,403.49 L344.10,403.40 L344.80,402.48 L345.50,401.57 L346.20,401.48 L346.90,402.22 L347.60,402.07 L348.30,400.51 L349.00,400.72 L349.70,400.94 L350.40,401.18 L351.10,401.78 L351.80,400.81 L352.50,399.41 L353.20,401.30 L353.90,400.11 L354.60,400.16 L355.30,399.22 L356.00,399.58 L356.70,399.31 L357.40,400.13 L358.10,398.13 L358.80,399.03 L359.50,397.79 L360.20,398.87 L360.90,396.88 L361.60,397.23 L362.30,397.14 L363.00,397.63 L363.70,395.84 L364.40,396.63 L365.10,395.71 L365.80,395.67 L366.50,395.94 L367.20,396.96 L367.90,395.48 L368.60,396.11 L369.30,393.39 L370.00,394.69 L370.70,392.56 L371.40,391.44 L372.10,392.22 L372.80,391.98 L373.50,388.96 L374.20,389.11 L374.90,389.98 L375.60,388.43 L376.30,387.73 L377.00,386.68 L377.70,386.32 L378.40,387.39 L379.10,387.90 L379.80,387.49 L380.50,385.77 L381.20,384.08 L381.90,384.42 L382.60,385.12 L383.30,384.31 L384.00,382.88 L384.70,380.89 L385.40,380.74 L386.10,379.69 L386.80,379.15 L387.50,377.28 L388.20,378.14 L388.90,377.07 L389.60,374.18 L390.30,373.54 L391.00,374.07 L391.70,371.54 L392.40,372.29 L393.10,370.20 L393.80,369.69 L394.50,368.73 L395.20,366.36 L395.90,365.14 L396.60,363.66 L397.30,363.38 L398.00,362.00 L398.70,359.14 L399.40,359.70 L400.10,357.09 L400.80,355.19 L401.50,354.26 L402.20,354.25 L402.90,351.72 L403.60,350.46 L404.30,349.80 L405.00,349.05 L405.70,347.76 L406.40,346.10 L407.10,345.78 L407.80,345.83 L408.50,344.77 L409.20,343.28 L409.90,341.62 L410.60,340.62 L411.30,340.52 L412.00,339.02 L412.70,336.57 L413.40,337.42 L414.10,336.97 L414.80,335.75 L415.50,335.05 L416.20,334.14 L416.90,332.64 L417.60,332.81 L418.30,331.25 L419.00,330.03 L419.70,330.20 L420.40,329.61 L421.10,330.73 L421.80,329.89 L422.50,329.39 L423.20,329.47 L423.90,328.06 L424.60,329.00 L425.30,329.30 L426.00,328.38 L426.70,327.87 L427.40,328.34 L428.10,328.23 L428.80,329.29 L429.50,327.99 L430.20,328.09 L430.90,329.21 L431.60,330.75 L432.30,331.45 L433.00,331.73 L433.70,332.99 L434.40,332.09 L435.10,331.79 L435.80,333.56 L436.50,334.03 L437.20,333.92 L437.90,335.84 L438.60,335.69 L439.30,336.12 L440.00,337.05 L440.70,339.35 L441.40,337.62 L442.10,339.24 L442.80,339.84 L443.50,340.60 L444.20,342.17 L444.90,342.58 L445.60,345.37 L446.30,345.25 L447.00,346.73 L447.70,346.32 L448.40,348.15 L449.10,349.57 L449.80,351.23 L450.50,350.73 L451.20,352.32 L451.90,354.07 L452.60,354.71 L453.30,353.84 L454.00,355.35 L454.70,356.63 L455.40,356.38 L456.10,357.80 L456.80,358.47 L457.50,359.98 L458.20,359.59 L458.90,360.62 L459.60,360.46 L460.30,362.15 L461.00,361.79 L461.70,362.92 L462.40,363.21 L463.10,363.73 L463.80,363.93 L464.50,364.82 L465.20,366.20 L465.90,365.71 L466.60,365.46 L467.30,367.71 L468.00,366.64 L468.70,368.61 L469.40,368.16 L470.10,368.05 L470.80,369.74 L471.50,370.24 L472.20,369.18 L472.90,369.10 L473.60,370.88 L474.30,371.84 L475.00,371.66 L475.70,372.55" fill="none" stroke-width="1.5" stroke-linejoin="round"/>
<path d="M310.50,407.67 L311.20,408.65 L311.90,408.51 L312.60,408.81 L313.30,406.95 L314.00,406.94 L314.70,406.59 L315.40,406.66 L316.10,407.85 L316.80,406.14 L317.50,407.06 L318.20,406.10 L318.90,406.17 L319.60,406.40 L320.30,407.32 L321.00,406.58 L321.70,404.90 L322.40,405.44 L323.10,404.96 L323.80,406.71 L324.50,406.41 L325.20,406.26 L325.90,406.17 L326.60,405.82 L327.30,406.21 L328.00,405.66 L328.70,404.13 L329.40,405.53 L330.10,404.45 L330.80,405.03 L331.50,404.41 L332.20,403.94 L332.90,403.65 L333.60,403.71 L334.30,403.28 L335.00,402.66 L335.70,404.36 L336.40,404.19 L337.10,404.56 L337.80,403.67 L338.50,403.20 L339.20,403.58 L339.90,401.87 L340.60,403.17 L341.30,402.45 L342.00,401.65 L342.70,401.61 L343.40,402.33 L344.10,401.52 L344.80,401.95 L345.50,402.22 L346.20,401.57 L346.90,400.77 L347.60,401.60 L348.30,400.83 L349.00,400.72 L349.70,400.50 L350.40,400.81 L351.10,399.90 L351.80,401.25 L352.50,401.88 L353.20,400.26 L353.90,400.96 L354.60,401.36 L355.30,398.90 L356.00,399.00 L356.70,400.57 L357.40,400.50 L358.10,399.83 L358.80,398.44 L359.50,398.95 L360.20,399.98 L360.90,399.88 L361.60,399.51 L362.30,397.80 L363.00,399.35 L363.70,397.95 L364.40,398.69 L365.10,397.04 L365.80,399.09 L366.50,398.01 L367.20,398.20 L367.90,396.75 L368.60,397.69 L369.30,397.47 L370.00,397.38 L370.70,396.66 L371.40,397.49 L372.10,396.37 L372.80,396.13 L373.50,395.67 L374.20,396.79 L374.90,395.01 L375.60,395.01 L376.30,394.31 L377.00,395.51 L377.70,394.99 L378.40,394.66 L379.10,393.05 L379.80,393.80 L380.50,393.26 L381.20,392.31 L381.90,391.78 L382.60,394.08 L383.30,391.50 L384.00,391.68 L384.70,391.30 L385.40,391.86 L386.10,390.21 L386.80,390.98 L387.50,390.47 L388.20,391.44 L388.90,389.04 L389.60,389.65 L390.30,389.83 L391.00,390.82 L391.70,389.40 L392.40,389.04 L393.10,389.31 L393.80,388.09 L394.50,387.16 L395.20,388.14 L395.90,388.96 L396.60,388.27 L397.30,386.78 L398.00,387.64 L398.70,387.83 L399.40,385.99 L400.10,386.53 L400.80,385.62 L401.50,385.03 L402.20,384.83 L402.90,384.30 L403.60,384.38 L404.30,383.26 L405.00,383.88 L405.70,382.77 L406.40,384.21 L407.10,383.49 L407.80,381.63 L408.50,383.32 L409.20,381.37 L409.90,381.62 L410.60,381.31 L411.30,380.23 L412.00,379.61 L412.70,379.49 L413.40,378.21 L414.10,379.59 L414.80,377.14 L415.50,378.59 L416.20,376.67 L416.90,376.54 L417.60,376.41 L418.30,375.14 L419.00,375.03 L419.70,375.29 L420.40,375.26 L421.10,376.23 L421.80,376.36 L422.50,373.74 L423.20,374.86 L423.90,373.64 L424.60,375.24 L425.30,373.83 L426.00,375.15 L426.70,374.09 L427.40,372.84 L428.10,372.36 L428.80,372.85 L429.50,374.53 L430.20,372.74 L430.90,373.67 L431.60,373.46 L432.30,373.46 L433.00,374.72 L433.70,373.26 L434.40,374.65 L435.10,374.59 L435.80,375.36 L436.50,374.35 L437.20,375.46 L437.90,374.31 L438.60,374.77 L439.30,375.00 L440.00,375.68 L440.70,375.95 L441.40,374.02 L442.10,374.19 L442.80,375.39 L443.50,376.34 L444.20,375.85 L444.90,375.47 L445.60,377.42 L446.30,375.93 L447.00,375.61 L447.70,375.75 L448.40,375.93 L449.10,377.97 L449.80,376.59 L450.50,378.40 L451.20,379.02 L451.90,379.60 L452.60,379.34 L453.30,378.61 L454.00,379.39 L454.70,380.20 L455.40,380.16 L456.10,379.32 L456.80,380.82 L457.50,379.38 L458.20,380.17 L458.90,382.22 L459.60,381.12 L460.30,380.86 L461.00,382.47 L461.70,381.87 L462.40,380.97 L463.10,381.30 L463.80,382.17 L464.50,382.62 L465.20,384.44 L465.90,382.83 L466.60,384.58 L467.30,384.77 L468.00,383.81 L468.70,385.49 L469.40,385.07 L470.10,384.53 L470.80,384.14 L471.50,384.84 L472.20,386.17 L472.90,385.40 L473.60,384.69 L474.30,385.34 L475.00,385.79 L475.70,385.23 L476.40,386.40 L477.10,385.18" fill="none" stroke-width="1.5" stroke-linejoin="round"/>
<path d="M310.50,400.48 L311.20,402.09 L311.90,402.01 L312.60,402.82 L313.30,401.14 L314.00,401.16 L314.70,402.46 L315.40,402.32 L316.10,401.46 L316.80,402.51 L317.50,401.82 L318.20,402.87 L318.90,401.22 L319.60,401.55 L320.30,403.35 L321.00,401.96 L321.70,401.72 L322.40,403.15 L323.10,402.72 L323.80,401.48 L324.50,402.55 L325.20,402.86 L325.90,401.58 L326.60,402.86 L327.30,401.50 L328.00,402.08 L328.70,401.43 L329.40,401.77 L330.10,403.80 L330.80,402.32 L331.50,403.86 L332.20,402.45 L332.90,402.90 L333.60,403.61 L334.30,403.14 L335.00,401.66 L335.70,402.92 L336.40,403.06 L337.10,401.90 L337.80,401.69 L338.50,403.74 L339.20,402.82 L339.90,402.00 L340.60,402.65 L341.30,402.00 L342.00,403.48 L342.70,402.67 L343.40,401.60 L344.10,403.42 L344.80,401.49 L345.50,401.95 L346.20,401.26 L346.90,403.08 L347.60,401.42 L348.30,402.45 L349.00,401.29 L349.70,402.26 L350.40,402.76 L351.10,402.34 L351.80,402.09 L352.50,402.14 L353.20,401.98 L353.90,402.35 L354.60,401.02 L355.30,401.97 L356.00,401.31 L356.70,402.92 L357.40,403.07 L358.10,400.77 L358.80,400.93 L359.50,402.35 L360.20,401.98 L360.90,400.51 L361.60,402.27 L362.30,402.86 L363.00,401.48 L363.70,401.26 L364.40,401.80 L365.10,402.74 L365.80,400.95 L366.50,401.03 L367.20,400.70 L367.90,401.82 L368.60,401.38 L369.30,400.79 L370.00,401.11 L370.70,400.16 L371.40,400.86 L372.10,402.57 L372.80,401.51 L373.50,400.69 L374.20,402.37 L374.90,400.84 L375.60,400.53 L376.30,399.94 L377.00,400.20 L377.70,400.31 L378.40,400.36 L379.10,402.01 L379.80,400.40 L380.50,400.33 L381.20,401.24 L381.90,402.04 L382.60,400.39 L383.30,401.60 L384.00,400.56 L384.70,401.04 L385.40,401.11 L386.10,402.00 L386.80,401.50 L387.50,400.83 L388.20,401.68 L388.90,400.43 L389.60,400.46 L390.30,401.94 L391.00,400.84 L391.70,401.42 L392.40,400.21 L393.10,401.75 L393.80,400.95 L394.50,399.98 L395.20,401.75 L395.90,400.52 L396.60,400.17 L397.30,399.95 L398.00,399.52 L398.70,399.75 L399.40,401.01 L400.10,399.57 L400.80,399.87 L401.50,400.36 L402.20,400.62 L402.90,400.19 L403.60,401.24 L404.30,399.87 L405.00,400.16 L405.70,400.31 L406.40,399.54 L407.10,399.78 L407.80,399.58 L408.50,401.09 L409.20,399.58 L409.90,400.94 L410.60,399.78 L411.30,400.88 L412.00,400.91 L412.70,400.12 L413.40,401.63 L414.10,400.91 L414.80,400.65 L415.50,399.32 L416.20,400.26 L416.90,399.89 L417.60,400.42 L418.30,401.63 L419.00,401.45 L419.70,399.36 L420.40,400.96 L421.10,401.62 L421.80,400.59 L422.50,399.43 L423.20,401.42 L423.90,400.27 L424.60,401.70 L425.30,401.42 L426.00,401.30 L426.70,401.55 L427.40,399.30 L428.10,401.18 L428.80,399.91 L429.50,399.46 L430.20,400.08 L430.90,400.62 L431.60,399.10 L432.30,400.25 L433.00,401.11 L433.70,400.35 L434.40,400.43 L435.10,399.82 L435.80,401.57 L436.50,399.68 L437.20,400.80 L437.90,400.70 L438.60,399.02 L439.30,401.60 L440.00,399.61 L440.70,401.57 L441.40,401.41 L442.10,401.33 L442.80,401.21 L443.50,400.02 L444.20,400.14 L444.90,399.87 L445.60,401.41 L446.30,399.04 L447.00,399.32 L447.70,401.45 L448.40,401.05 L449.10,400.79 L449.80,401.47 L450.50,400.31 L451.20,401.12 L451.90,400.09 L452.60,401.28 L453.30,399.11 L454.00,400.07 L454.70,400.43 L455.40,400.99 L456.10,400.02 L456.80,400.69 L457.50,401.43 L458.20,400.00 L458.90,399.42 L459.60,398.98 L460.30,401.13 L461.00,400.12 L461.70,399.87 L462.40,400.20 L463.10,399.14 L463.80,399.39 L464.50,399.41 L465.20,399.45 L465.90,401.00 L466.60,399.39 L467.30,398.97 L468.00,400.97 L468.70,400.16 L469.40,398.76 L470.10,400.43 L470.80,400.44 L471.50,400.33 L472.20,400.64 L472.90,399.71 L473.60,399.18 L474.30,400.51 L475.00,400.19 L475.70,400.38 L476.40,399.01 L477.10,399.48 L477.80,400.30" fill="none" stroke-width="1.5" stroke-linejoin="round"/>
<text x="496.00" y="323.20" font-family="'Liberation Serif', serif" font-style="italic" font-size="8.2" font-weight="normal" textLength="3.6" lengthAdjust="spacingAndGlyphs" style="stroke-width:0.2px">i</text>
<text x="493.90" y="365.00" font-family="'Liberation Serif', serif" font-style="italic" font-size="8.2" font-weight="normal" textLength="7.6" lengthAdjust="spacingAndGlyphs" style="stroke-width:0.2px">iii</text>
<text x="495.20" y="386.80" font-family="'Liberation Serif', serif" font-style="italic" font-size="8.2" font-weight="normal" textLength="5.8" lengthAdjust="spacingAndGlyphs" style="stroke-width:0.2px">ii</text>
<text x="495.20" y="406.20" font-family="'Liberation Serif', serif" font-style="italic" font-size="8.2" font-weight="normal" textLength="7.6" lengthAdjust="spacingAndGlyphs" style="stroke-width:0.2px">iv</text>
</g>
</svg>
</body></html>
